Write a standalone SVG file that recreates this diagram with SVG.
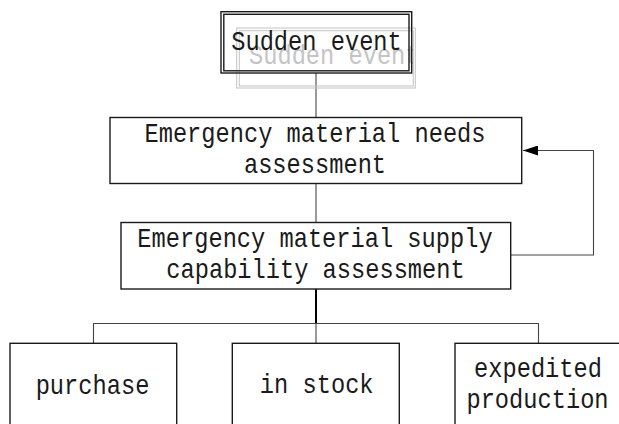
<svg xmlns="http://www.w3.org/2000/svg" width="619" height="424" viewBox="0 0 619 424">
<style>
.box{fill:none;stroke:#1a1a1a;stroke-width:1.4}
.ghost{fill:none;stroke:#c4c4c4;stroke-width:1}
.t{font-family:"Liberation Mono","DejaVu Sans Mono",monospace;font-size:23.7px;fill:#1a1a1a;text-anchor:middle}
.gt{font-family:"Liberation Mono","DejaVu Sans Mono",monospace;font-size:23.7px;fill:#c4c4c4}
.c{fill:none;stroke:#444;stroke-width:1.1}
</style>
<defs>
<marker id="ah" markerWidth="16" markerHeight="10" refX="15" refY="5" orient="auto" markerUnits="userSpaceOnUse">
<path d="M0,0 L15,5 L0,10 Z" fill="#000"/>
</marker>
<clipPath id="gclip"><rect x="239.5" y="31" width="173.5" height="55"/></clipPath>
</defs>
<g id="connectors">
<line class="c" x1="316" y1="73" x2="316" y2="117.5"/>
<line class="c" x1="316" y1="183.5" x2="316" y2="222.5"/>
<polyline class="c" points="511,255 593.5,255 593.5,150.5 523,150.5" stroke="#000" marker-end="url(#ah)"/>
<line x1="316" y1="289" x2="316" y2="323.5" stroke="#000" stroke-width="2"/>
<polyline class="c" points="93.5,343 93.5,323.5 538.5,323.5 538.5,343"/>
<line class="c" x1="316" y1="323.5" x2="316" y2="343"/>
</g>
<g id="sudden-event">
<rect class="ghost" x="236.7" y="28" width="178.6" height="60"/>
<rect class="ghost" x="239.3" y="30.7" width="174" height="55.3"/>
<g clip-path="url(#gclip)"><g transform="translate(249,63.5) scale(1,1.2)"><text class="gt" x="0" y="0">Sudden event</text></g></g>
<rect class="box" x="221" y="11.7" width="190.7" height="61.3"/>
<rect class="box" x="223.8" y="14.3" width="185.2" height="56.5"/>
<g transform="translate(316.5,50) scale(1,1.2)"><text class="t" x="0" y="0">Sudden event</text></g>
</g>
<g id="needs-assessment">
<rect class="box" x="110" y="117.5" width="411.7" height="66"/>
<g transform="translate(315,141.7) scale(1,1.2)"><text class="t" x="0" y="0">Emergency material needs</text></g>
<g transform="translate(315,173) scale(1,1.2)"><text class="t" x="0" y="0">assessment</text></g>
</g>
<g id="supply-assessment">
<rect class="box" x="121" y="222.5" width="389.7" height="66.5"/>
<g transform="translate(315,246.7) scale(1,1.2)"><text class="t" x="0" y="0">Emergency material supply</text></g>
<g transform="translate(315.5,278) scale(1,1.2)"><text class="t" x="0" y="0">capability assessment</text></g>
</g>
<g id="purchase">
<rect class="box" x="10" y="343.3" width="166.7" height="90"/>
<g transform="translate(92.5,394) scale(1,1.2)"><text class="t" x="0" y="0">purchase</text></g>
</g>
<g id="in-stock">
<rect class="box" x="232.3" y="343.3" width="167" height="90"/>
<g transform="translate(316.7,393) scale(1,1.2)"><text class="t" x="0" y="0">in stock</text></g>
</g>
<g id="expedited-production">
<rect class="box" x="455" y="343.3" width="170" height="90"/>
<g transform="translate(538,377) scale(1,1.2)"><text class="t" x="0" y="0">expedited</text></g>
<g transform="translate(537.5,408) scale(1,1.2)"><text class="t" x="0" y="0">production</text></g>
</g>
</svg>
